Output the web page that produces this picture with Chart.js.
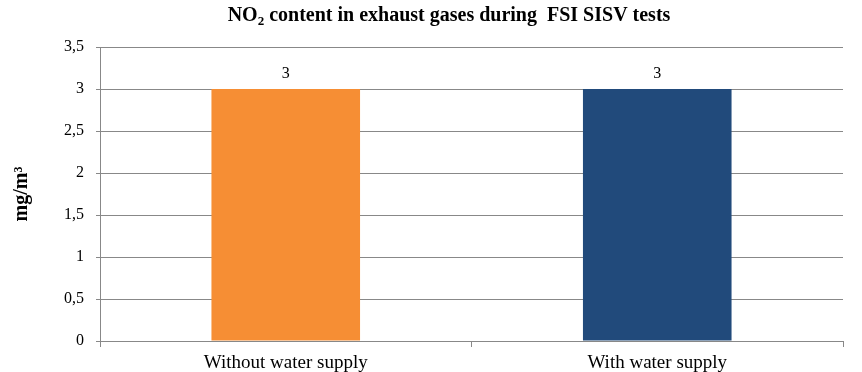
<!DOCTYPE html>
<html>
<head>
<meta charset="utf-8">
<script src="https://cdn.jsdelivr.net/npm/chart.js@4"></script>
<style>
  html, body { margin:0; padding:0; background:#fff; }
  #wrap { width:862px; height:372px; }
</style>
</head>
<body>
<div id="wrap"><canvas id="no2Chart" width="862" height="372"></canvas></div>
<script>
// data
const categories = ["Without water supply", "With water supply"];
const no2Values = [3, 3];
const barColors = ["#F68E34", "#214A7B"];
const yTickLabels = ["0", "0,5", "1", "1,5", "2", "2,5", "3", "3,5"];

const FONT = "'Liberation Serif', 'Times New Roman', serif";
const GRID = "#888888";

// title with real subscript 2
const titlePlugin = {
  id: "titlePlugin",
  afterDraw(chart){
    const c = chart.ctx;
    const parts = [["NO", 20, 0], ["2", 13, 4], [" content in exhaust gases during  FSI SISV tests", 20, 0]];
    c.save();
    c.fillStyle = "#000";
    c.textBaseline = "alphabetic";
    let total = 0;
    parts.forEach(p=>{ c.font = "bold " + p[1] + "px " + FONT; total += c.measureText(p[0]).width; });
    let x = 449 - total / 2;
    parts.forEach(p=>{
      c.font = "bold " + p[1] + "px " + FONT;
      c.fillText(p[0], x, 21 + p[2]);
      x += c.measureText(p[0]).width;
    });
    c.restore();
  }
};

// value labels above bars
const barLabels = {
  id: "barLabels",
  afterDatasetsDraw(chart){
    const c = chart.ctx;
    const meta = chart.getDatasetMeta(0);
    c.save();
    c.font = "16px " + FONT;
    c.fillStyle = "#000";
    c.textAlign = "center";
    c.textBaseline = "alphabetic";
    meta.data.forEach((bar, i)=>{
      c.fillText(String(no2Values[i]).replace(".", ","), bar.x, bar.y - 11);
    });
    c.restore();
  }
};

new Chart(document.getElementById("no2Chart"), {
  type: "bar",
  data: {
    labels: categories,
    datasets: [{
      data: no2Values,
      backgroundColor: barColors,
      borderWidth: 0,
      barPercentage: 0.4,
      categoryPercentage: 1
    }]
  },
  options: {
    responsive: false,
    animation: false,
    layout: { padding: { top: 47, right: 19, left: 0, bottom: 0 } },
    plugins: {
      legend: { display: false },
      tooltip: { enabled: false },
      title: { display: false }
    },
    scales: {
      x: {
        grid: { offset: true, drawOnChartArea: false, drawTicks: true, tickLength: 6, color: GRID },
        border: { color: GRID },
        ticks: { color: "#000", font: { family: FONT, size: 19 }, padding: 5 },
        afterFit(scale){ scale.height = 31; }
      },
      y: {
        min: 0, max: 3.5,
        grid: { color: GRID, tickLength: 4 },
        border: { color: GRID },
        ticks: {
          stepSize: 0.5,
          color: "#000",
          font: { family: FONT, size: 16 },
          padding: 12,
          callback: (v, i)=> yTickLabels[i]
        },
        title: {
          display: true,
          text: "mg/m\u00B3",
          color: "#000",
          font: { family: FONT, size: 20, weight: "bold" },
          padding: { top: 10, bottom: 0 }
        },
        afterFit(scale){ scale.width = 100; }
      }
    }
  },
  plugins: [barLabels, titlePlugin]
});
</script>
</body>
</html>
